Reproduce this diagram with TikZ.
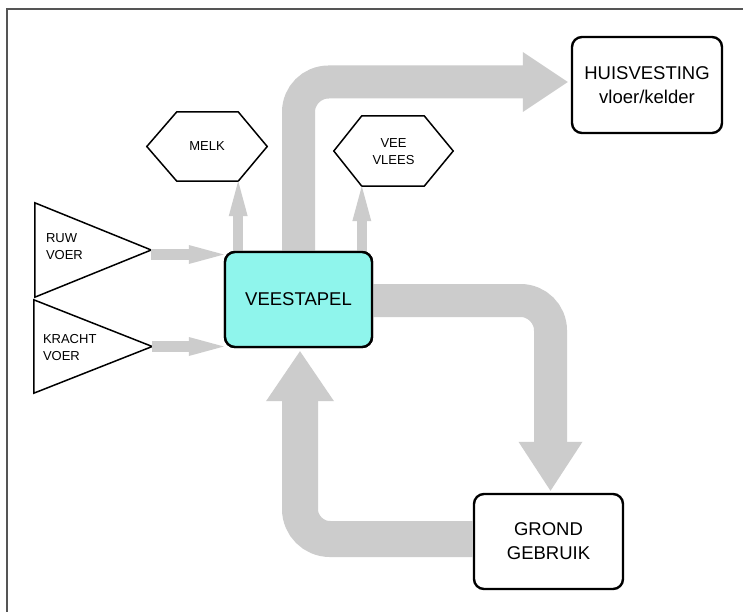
\documentclass[tikz,border=0pt]{standalone}
\usepackage{fontspec}
\setmainfont{Liberation Sans}
\usetikzlibrary{arrows.meta}
\definecolor{stock}{HTML}{8FF5EC}
\definecolor{flowgray}{HTML}{CCCCCC}
\definecolor{framegray}{HTML}{555555}
\tikzset{
  box/.style={draw, line width=2.4pt, rounded corners=10pt, align=center,
    inner sep=0pt, font=\fontsize{18.5}{24}\selectfont},
  shapeholder/.style={inner sep=0pt},
  outline/.style={draw, line width=1.5pt, line join=miter},
  lbl/.style={inner sep=0pt, align=left, font=\fontsize{13}{17}\selectfont},
  clbl/.style={inner sep=0pt, align=center, font=\fontsize{13}{17}\selectfont},
  bigflow/.style={draw=flowgray, line width=#1, rounded corners=30pt},
  smallflow/.style={draw=flowgray, line width=10.5pt,
    -{Triangle[length=35pt,width=19pt,line width=0pt,fill=flowgray]}},
}
\begin{document}
\begin{tikzpicture}[x=1pt,y=-1pt]
\useasboundingbox (0,0) rectangle (743,612);
\fill[white] (0,0) rectangle (743,612);
% frame
\draw[framegray, line width=1.5pt] (7,612) -- (7,9) -- (743,9);

% central stock box and the two sinks
\node[box, fill=stock, minimum width=147pt, minimum height=95pt] (vee) at (298.5,299.5) {VEESTAPEL};
\node[box, minimum width=150pt, minimum height=96pt] (huis) at (647,85) {HUISVESTING\\vloer/kelder};
\node[box, minimum width=149pt, minimum height=95pt] (grond) at (548.5,541.5) {GROND\\GEBRUIK};

% feed triangles
\node[shapeholder, minimum width=116pt, minimum height=94pt] (ruw) at (93,250) {};
\node[shapeholder, minimum width=118pt, minimum height=93pt] (kracht) at (93,346.5) {};
\draw[outline] (ruw.north west) -- (ruw.east) -- (ruw.south west) -- cycle;
\draw[outline] (kracht.north west) -- (kracht.east) -- (kracht.south west) -- cycle;
\node[lbl, anchor=west] (ruwtxt) at ([xshift=11pt,yshift=3pt]ruw.west) {RUW\\VOER};
\node[lbl, anchor=west] (krachttxt) at ([xshift=9pt,yshift=-1pt]kracht.west) {KRACHT\\VOER};

% product hexagons
\node[shapeholder, minimum width=120pt, minimum height=69pt] (melk) at (207,146.5) {};
\node[shapeholder, minimum width=119pt, minimum height=70pt] (vlees) at (393.5,151) {};
\draw[outline] (melk.west) -- ([xshift=30pt]melk.north west) -- ([xshift=-29pt]melk.north east)
  -- (melk.east) -- ([xshift=-29pt]melk.south east) -- ([xshift=30pt]melk.south west) -- cycle;
\draw[outline] (vlees.west) -- ([xshift=28pt]vlees.north west) -- ([xshift=-29pt]vlees.north east)
  -- (vlees.east) -- ([xshift=-29pt]vlees.south east) -- ([xshift=28pt]vlees.south west) -- cycle;
\node[clbl] (melktxt) at (melk.center) {MELK};
\node[clbl] (vleestxt) at ([yshift=-1pt]vlees.center) {VEE\\VLEES};

% large flows
\draw[bigflow=33pt, -{Triangle[length=45pt,width=60pt,line width=0pt,fill=flowgray]}]
  (vee.north) |- ([yshift=3pt,xshift=-3pt]huis.west);
\draw[bigflow=33pt, -{Triangle[length=49pt,width=64pt,line width=0pt,fill=flowgray]}]
  ([yshift=-1pt]vee.east) -| ([xshift=2pt,yshift=2pt]grond.north);
\draw[bigflow=36pt, -{Triangle[length=50pt,width=68pt,line width=0pt,fill=flowgray]}]
  ([yshift=2.5pt]grond.west) -| ([xshift=1.5pt,yshift=-3pt]vee.south);

% small flows
\coordinate (ruwout) at ([yshift=-4.5pt]ruw.east);
\draw[smallflow] (ruwout) -- (ruwout -| vee.west);
\draw[smallflow] (kracht.east) -- (kracht.east -| vee.west);
\coordinate (melkin) at ([xshift=-29pt]melk.south east);
\coordinate (vleesin) at ([xshift=28pt]vlees.south west);
\draw[smallflow] (melkin |- vee.north) -- (melkin);
\draw[smallflow] (vleesin |- vee.north) -- (vleesin);

% redraw box outlines over flow ends
\node[box, fill=stock, minimum width=147pt, minimum height=95pt] at (vee) {VEESTAPEL};
\end{tikzpicture}
\end{document}
